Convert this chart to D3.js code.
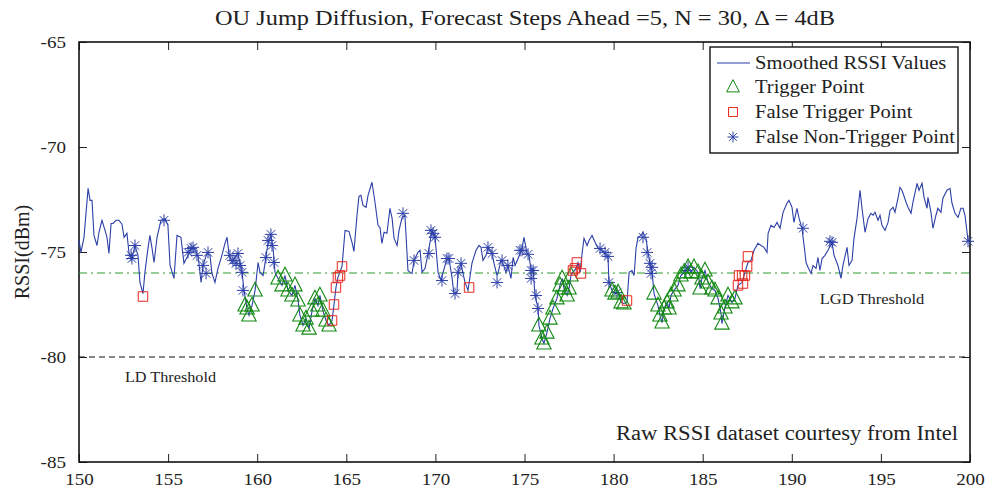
<!DOCTYPE html>
<html>
<head>
<meta charset="utf-8">
<script src="https://cdn.jsdelivr.net/npm/d3@7"></script>
<style>
  body { margin: 0; background: #fff; }
  text { font-family: "Liberation Serif", "DejaVu Serif", serif; fill: #222; }
</style>
</head>
<body>
<svg id="chart" width="999" height="490"></svg>
<script>
// smoothed RSSI trace
var timeVals = [150.00,150.11,150.28,150.51,150.62,150.73,150.84,151.01,151.12,151.29,151.46,151.57,151.68,151.80,151.91,152.08,152.24,152.41,152.53,152.69,
  152.81,152.97,153.14,153.31,153.42,153.59,153.70,153.87,153.98,154.10,154.21,154.38,154.43,154.60,154.83,154.99,155.11,155.33,155.50,155.72,
  155.89,156.12,156.34,156.51,156.68,156.85,156.96,157.18,157.35,157.46,157.63,157.80,158.02,158.19,158.31,158.42,158.59,158.75,158.92,159.15,
  159.26,159.43,159.54,159.71,159.88,160.05,160.16,160.33,160.49,160.61,160.77,160.89,161.00,161.17,161.39,161.56,161.73,161.95,162.12,162.29,
  162.40,162.57,162.74,162.91,163.08,163.24,163.41,163.52,163.69,163.86,164.03,164.20,164.31,164.42,164.53,164.76,164.93,165.15,165.32,165.43,
  165.60,165.71,165.82,165.94,166.11,166.22,166.44,166.61,166.78,166.89,167.00,167.12,167.28,167.45,167.57,167.68,167.85,167.96,168.13,168.29,
  168.46,168.58,168.69,168.80,169.02,169.14,169.25,169.42,169.59,169.81,169.87,169.98,170.15,170.32,170.43,170.65,170.76,170.93,171.04,171.21,
  171.27,171.44,171.49,171.66,171.83,172.05,172.28,172.45,172.56,172.67,172.84,172.95,173.18,173.29,173.46,173.51,173.68,173.79,173.96,174.07,
  174.24,174.36,174.47,174.64,174.86,174.97,175.14,175.25,175.37,175.48,175.59,175.76,175.81,175.98,176.09,176.26,176.43,176.60,176.82,176.99,
  177.11,177.22,177.39,177.50,177.61,177.72,177.89,178.00,178.12,178.23,178.34,178.51,178.62,178.79,178.96,179.13,179.29,179.46,179.69,179.74,
  179.91,180.08,180.25,180.42,180.58,180.75,180.87,181.03,181.15,181.26,181.37,181.54,181.65,181.82,181.93,182.04,182.16,182.27,182.49,182.60,
  182.72,182.83,183.00,183.11,183.22,183.39,183.61,183.78,183.95,184.18,184.34,184.51,184.74,184.85,184.96,185.13,185.30,185.52,185.69,185.86,
  186.03,186.08,186.25,186.42,186.64,186.81,186.98,187.21,187.37,187.54,187.71,187.88,188.10,188.27,188.44,188.61,188.67,188.83,189.00,189.17,
  189.34,189.51,189.73,189.84,190.01,190.12,190.29,190.41,190.57,190.69,190.80,190.91,191.08,191.19,191.36,191.47,191.58,191.70,191.86,192.03,
  192.26,192.37,192.59,192.76,192.87,193.10,193.21,193.38,193.49,193.66,193.83,193.94,194.11,194.28,194.44,194.56,194.67,194.84,194.95,195.06,
  195.23,195.40,195.51,195.68,195.79,195.96,196.07,196.18,196.24,196.41,196.52,196.69,196.80,197.03,197.14,197.31,197.42,197.59,197.64,197.81,
  197.92,198.09,198.20,198.37,198.48,198.71,198.88,198.99,199.16,199.33,199.49,199.61,199.72,199.89,200.00];

var rssiVals = [-74.45,-75.02,-74.30,-71.97,-72.54,-72.54,-74.21,-74.69,-74.06,-73.49,-73.97,-74.30,-75.07,-73.64,-73.64,-73.49,-73.49,-73.68,-74.30,-74.11,
  -75.07,-75.31,-74.69,-75.16,-76.45,-76.98,-75.97,-74.83,-74.21,-74.83,-75.50,-74.30,-74.11,-73.49,-73.40,-73.73,-75.64,-76.26,-74.21,-74.30,
  -75.54,-75.16,-74.78,-74.92,-75.16,-76.45,-75.64,-75.07,-75.16,-76.02,-76.45,-75.78,-75.16,-74.59,-74.30,-75.16,-75.50,-75.26,-75.07,-75.97,
  -76.83,-77.69,-78.02,-77.55,-76.83,-75.50,-75.97,-76.12,-75.26,-74.54,-74.21,-74.83,-75.97,-76.26,-76.59,-76.12,-76.83,-77.07,-76.59,-77.31,
  -78.02,-78.50,-78.17,-78.65,-77.79,-77.21,-77.55,-77.07,-77.79,-78.26,-78.50,-78.26,-77.50,-76.69,-76.21,-75.69,-73.97,-74.02,-74.54,-74.97,
  -73.25,-72.35,-72.30,-72.78,-72.87,-72.30,-71.68,-72.63,-73.73,-73.83,-74.59,-74.06,-74.11,-72.92,-73.40,-74.35,-74.69,-73.97,-73.35,-73.25,
  -75.88,-75.97,-76.02,-75.40,-75.02,-74.92,-75.97,-75.78,-75.07,-73.97,-74.11,-74.30,-75.97,-76.36,-75.97,-75.31,-75.31,-76.21,-76.98,-76.93,
  -75.97,-75.54,-75.78,-76.45,-76.83,-75.54,-74.92,-74.69,-74.78,-75.40,-75.16,-74.78,-75.07,-75.54,-76.12,-76.02,-75.40,-75.54,-75.97,-75.64,
  -76.26,-75.26,-75.64,-75.31,-74.83,-74.30,-75.07,-75.16,-75.88,-75.78,-77.07,-77.69,-78.50,-79.12,-79.36,-78.84,-78.17,-77.69,-77.21,-76.59,
  -76.26,-76.74,-77.07,-76.74,-76.12,-75.97,-75.78,-75.50,-75.97,-75.07,-74.35,-74.69,-74.45,-74.21,-74.54,-74.83,-74.92,-75.02,-75.31,-76.45,
  -76.83,-76.98,-76.93,-77.40,-77.45,-77.40,-75.97,-75.88,-76.12,-74.83,-74.30,-74.21,-74.06,-74.35,-75.02,-75.54,-75.97,-76.98,-77.55,-78.02,
  -78.36,-77.69,-77.40,-77.69,-77.07,-76.83,-76.59,-76.12,-75.97,-75.73,-75.97,-75.73,-75.97,-76.74,-76.26,-75.88,-76.45,-76.74,-76.83,-77.21,
  -77.93,-78.41,-77.64,-77.07,-77.40,-77.21,-76.59,-76.45,-75.97,-75.50,-75.40,-74.92,-74.59,-74.69,-74.78,-75.02,-74.11,-73.73,-73.83,-73.59,
  -73.87,-73.11,-72.68,-72.54,-72.87,-73.59,-72.92,-73.40,-73.87,-74.69,-75.50,-75.73,-76.02,-75.64,-75.78,-75.26,-75.88,-75.31,-75.16,-74.92,
  -74.54,-75.16,-75.64,-76.26,-75.64,-74.78,-75.64,-75.40,-74.35,-73.40,-72.06,-72.92,-74.06,-73.40,-73.16,-73.25,-73.11,-73.49,-73.25,-73.73,
  -73.97,-73.59,-73.02,-72.87,-73.11,-72.44,-71.92,-72.06,-72.20,-72.63,-72.87,-73.16,-72.63,-71.73,-72.06,-71.73,-72.40,-72.92,-72.40,-73.11,
  -73.87,-73.25,-72.92,-73.11,-72.44,-72.06,-71.97,-72.68,-73.16,-73.35,-72.92,-72.92,-73.25,-74.45,-74.54];

// trigger points (green triangles)
var trigX = [159.32,159.43,159.54,159.71,159.88,
  161.17,161.39,161.56,161.73,161.95,162.12,162.29,162.40,162.57,162.74,162.91,163.08,163.24,163.41,163.52,163.69,163.86,164.03,
  175.81,175.98,176.09,176.26,176.43,176.60,176.82,176.99,177.11,177.22,177.39,177.50,177.61,
  179.91,180.08,180.25,180.42,180.58,
  182.27,182.49,182.60,182.72,182.83,183.00,183.11,183.22,183.39,183.61,183.78,183.95,184.18,184.34,184.51,184.74,184.85,184.96,185.13,185.30,
  185.52,185.69,185.86,186.03,186.08,186.25,186.42,186.64,186.81];
var trigY = [-77.55,-77.69,-78.02,-77.55,-76.83,
  -76.26,-76.59,-76.12,-76.83,-77.07,-76.59,-77.31,-78.02,-78.50,-78.17,-78.65,-77.79,-77.21,-77.55,-77.07,-77.79,-78.26,-78.50,
  -78.50,-79.12,-79.36,-78.84,-78.17,-77.69,-77.21,-76.59,-76.26,-76.74,-77.07,-76.74,-76.12,
  -76.83,-76.98,-76.93,-77.40,-77.45,
  -76.98,-77.55,-78.02,-78.36,-77.69,-77.40,-77.69,-77.07,-76.83,-76.59,-76.12,-75.97,-75.73,-75.97,-75.73,-75.97,-76.74,-76.26,-75.88,-76.45,
  -76.74,-76.83,-77.21,-77.93,-78.41,-77.64,-77.07,-77.40,-77.21];

// false trigger points (red squares)
var falseTrigX = [153.59,164.20,164.31,164.42,164.53,164.65,164.76,171.89,177.72,177.83,177.94,178.17,180.75,
  186.98,187.04,187.21,187.26,187.37,187.49,187.54];
var falseTrigY = [-77.12,-78.26,-77.50,-76.69,-76.21,-76.12,-75.69,-76.69,-75.88,-75.78,-75.50,-76.02,-77.31,
  -76.59,-76.12,-76.12,-76.50,-76.12,-75.69,-75.21];

// false non-trigger points (blue asterisks)
var falseNonX = [152.92,152.97,153.14,154.77,156.12,156.29,156.40,156.62,156.96,157.13,157.24,
  158.47,158.64,158.81,158.92,159.04,159.15,159.20,160.49,160.61,160.77,160.83,160.94,
  168.18,168.80,169.64,169.75,169.87,169.98,170.37,170.65,170.76,171.10,171.27,171.44,
  172.95,173.18,173.46,173.74,174.07,174.75,174.86,175.20,175.37,175.48,175.37,175.65,175.76,
  179.24,179.52,179.69,179.74,180.19,181.65,181.88,182.04,182.16,182.10,184.18,184.06,
  190.63,192.14,192.26,199.89];
var falseNonY = [-75.16,-75.31,-74.69,-73.49,-75.02,-74.83,-74.78,-75.16,-75.64,-76.02,-75.02,
  -75.16,-75.40,-75.54,-75.07,-75.64,-75.97,-76.83,-75.26,-74.45,-74.16,-74.69,-75.50,
  -73.16,-75.40,-75.07,-73.97,-74.11,-74.30,-76.36,-75.31,-75.31,-76.98,-75.97,-75.54,
  -74.78,-75.07,-76.45,-75.40,-75.64,-74.92,-74.92,-75.11,-75.88,-75.88,-76.26,-77.07,-77.69,
  -74.83,-75.02,-75.21,-76.45,-76.93,-74.30,-75.02,-75.54,-75.73,-76.02,-75.73,-75.88,
  -73.87,-74.49,-74.54,-74.49];

var xTicks = [150,155,160,165,170,175,180,185,190,195,200];
var yTicks = [-85,-80,-75,-70,-65];
var ldThreshold = -80, lgdThreshold = -76;
var legendLabels = ["Smoothed RSSI Values","Trigger Point","False Trigger Point","False Non-Trigger Point"];

var blue = "#2c3fa8", green = "#138a13", red = "#e8261e";

var svg = d3.select("#chart");
var m = {left: 79, top: 42, right: 29, bottom: 28};
var W = 999 - m.left - m.right, H = 490 - m.top - m.bottom;

var x = d3.scaleLinear().domain([150, 200]).range([0, W]);
var y = d3.scaleLinear().domain([-85, -65]).range([H, 0]);

var g = svg.append("g").attr("transform", "translate(" + m.left + "," + m.top + ")");

// the source figure's type is a bit wider than it is tall
function stretch(sel, k) {
  sel.each(function () {
    var w = this.getComputedTextLength();
    d3.select(this).attr("textLength", w * k).attr("lengthAdjust", "spacingAndGlyphs");
  });
}

// custom symbols
var triSym = {draw: function (ctx, size) {
  var r = Math.sqrt(size);
  ctx.moveTo(0, -r * 0.6); ctx.lineTo(r * 0.52, r * 0.4); ctx.lineTo(-r * 0.52, r * 0.4); ctx.closePath();
}};
var astSym = {draw: function (ctx, size) {
  var r = Math.sqrt(size) / 2, d = r * 0.707;
  ctx.moveTo(-r, 0); ctx.lineTo(r, 0);
  ctx.moveTo(0, -r); ctx.lineTo(0, r);
  ctx.moveTo(-d, -d); ctx.lineTo(d, d);
  ctx.moveTo(-d, d); ctx.lineTo(d, -d);
}};

// axes (ticks inward, mirrored on top/right)
var xAxis = g.append("g").attr("transform", "translate(0," + H + ")")
  .call(d3.axisBottom(x).tickValues(xTicks).tickSizeInner(-8).tickSizeOuter(0).tickPadding(14));
var yAxis = g.append("g")
  .call(d3.axisLeft(y).tickValues(yTicks).tickSizeInner(-8).tickSizeOuter(0).tickPadding(13)
    .tickFormat(function (d) { return String(d); }));
g.append("g").call(d3.axisTop(x).tickValues(xTicks).tickSizeInner(-8).tickSizeOuter(0).tickFormat(""));
g.append("g").attr("transform", "translate(" + W + ",0)")
  .call(d3.axisRight(y).tickValues(yTicks).tickSizeInner(-8).tickSizeOuter(0).tickFormat(""));
g.selectAll(".domain").remove();
g.selectAll(".tick line").attr("stroke", "#222").attr("stroke-width", 1);
xAxis.selectAll("text").attr("font-size", 17).attr("font-family", "Liberation Serif").attr("fill", "#222");
yAxis.selectAll("text").attr("font-size", 17).attr("font-family", "Liberation Serif").attr("fill", "#222");
xAxis.selectAll(".tick text").attr("dy", "0.55em");
stretch(xAxis.selectAll(".tick text"), 1.12);
stretch(yAxis.selectAll(".tick text"), 1.12);

g.append("rect").attr("width", W).attr("height", H)
  .attr("fill", "none").attr("stroke", "#111").attr("stroke-width", 1.6);

// thresholds
g.append("line").attr("x1", 0).attr("x2", W).attr("y1", y(lgdThreshold)).attr("y2", y(lgdThreshold))
  .attr("stroke", "#2e9a2e").attr("stroke-width", 1).attr("stroke-dasharray", "8,4,2,4");
g.append("line").attr("x1", 0).attr("x2", W).attr("y1", y(ldThreshold)).attr("y2", y(ldThreshold))
  .attr("stroke", "#111").attr("stroke-width", 1).attr("stroke-dasharray", "6,4");

// line
var pts = timeVals.map(function (t, i) { return [t, rssiVals[i]]; });
var lineGen = d3.line().x(function (d) { return x(d[0]); }).y(function (d) { return y(d[1]); });
g.append("path").attr("d", lineGen(pts)).attr("fill", "none").attr("stroke", blue).attr("stroke-width", 1.1);

// markers
function markers(xs, ys, sym, size, color, sw) {
  var data = xs.map(function (v, i) { return [v, ys[i]]; });
  g.append("g").selectAll("path").data(data).enter().append("path")
    .attr("transform", function (d) { return "translate(" + x(d[0]) + "," + y(d[1]) + ")"; })
    .attr("d", d3.symbol().type(sym).size(size))
    .attr("fill", "none").attr("stroke", color).attr("stroke-width", sw);
}
markers(falseNonX, falseNonY, astSym, 144, blue, 1);
markers(trigX, trigY, triSym, 190, green, 1.1);
markers(falseTrigX, falseTrigY, d3.symbolSquare, 90, red, 1);

// text annotations
stretch(g.append("text").attr("x", x(152.58)).attr("y", y(ldThreshold) + 25).attr("font-size", 15).text("LD Threshold"), 1.08);
stretch(g.append("text").attr("x", x(194.5)).attr("y", y(lgdThreshold) + 31).attr("text-anchor", "middle").attr("font-size", 15).text("LGD Threshold"), 1.1);
stretch(g.append("text").attr("x", W - 12).attr("y", 398).attr("text-anchor", "end").attr("font-size", 20).text("Raw RSSI dataset courtesy from Intel"), 1.13);

// title and y label
stretch(svg.append("text").attr("x", 525).attr("y", 25).attr("text-anchor", "middle").attr("font-size", 21)
  .text("OU Jump Diffusion, Forecast Steps Ahead =5, N = 30, \u0394 = 4dB"), 1.16);
svg.append("text").attr("transform", "translate(29," + (m.top + H / 2) + ") rotate(-90)")
  .attr("text-anchor", "middle").attr("font-size", 20).text("RSSI(dBm)");

// legend
var lg = svg.append("g").attr("transform", "translate(710,47)");
lg.append("rect").attr("width", 248).attr("height", 106).attr("fill", "#fff").attr("stroke", "#111").attr("stroke-width", 1.4);
var rowY = [16, 40, 65, 90];
lg.append("line").attr("x1", 7).attr("x2", 40).attr("y1", rowY[0]).attr("y2", rowY[0]).attr("stroke", blue).attr("stroke-width", 1.1);
var legSyms = [null, [triSym, 150, green], [d3.symbolSquare, 80, red], [astSym, 120, blue]];
legSyms.forEach(function (s, i) {
  if (!s) return;
  lg.append("path").attr("transform", "translate(23," + rowY[i] + ")")
    .attr("d", d3.symbol().type(s[0]).size(s[1])).attr("fill", "none").attr("stroke", s[2]).attr("stroke-width", 1);
});
stretch(lg.selectAll("text.lab").data(legendLabels).enter().append("text").attr("class", "lab")
  .attr("x", 45).attr("y", function (d, i) { return rowY[i] + 6; }).attr("font-size", 18.5).text(function (d) { return d; }), 1.11);
</script>
</body>
</html>
